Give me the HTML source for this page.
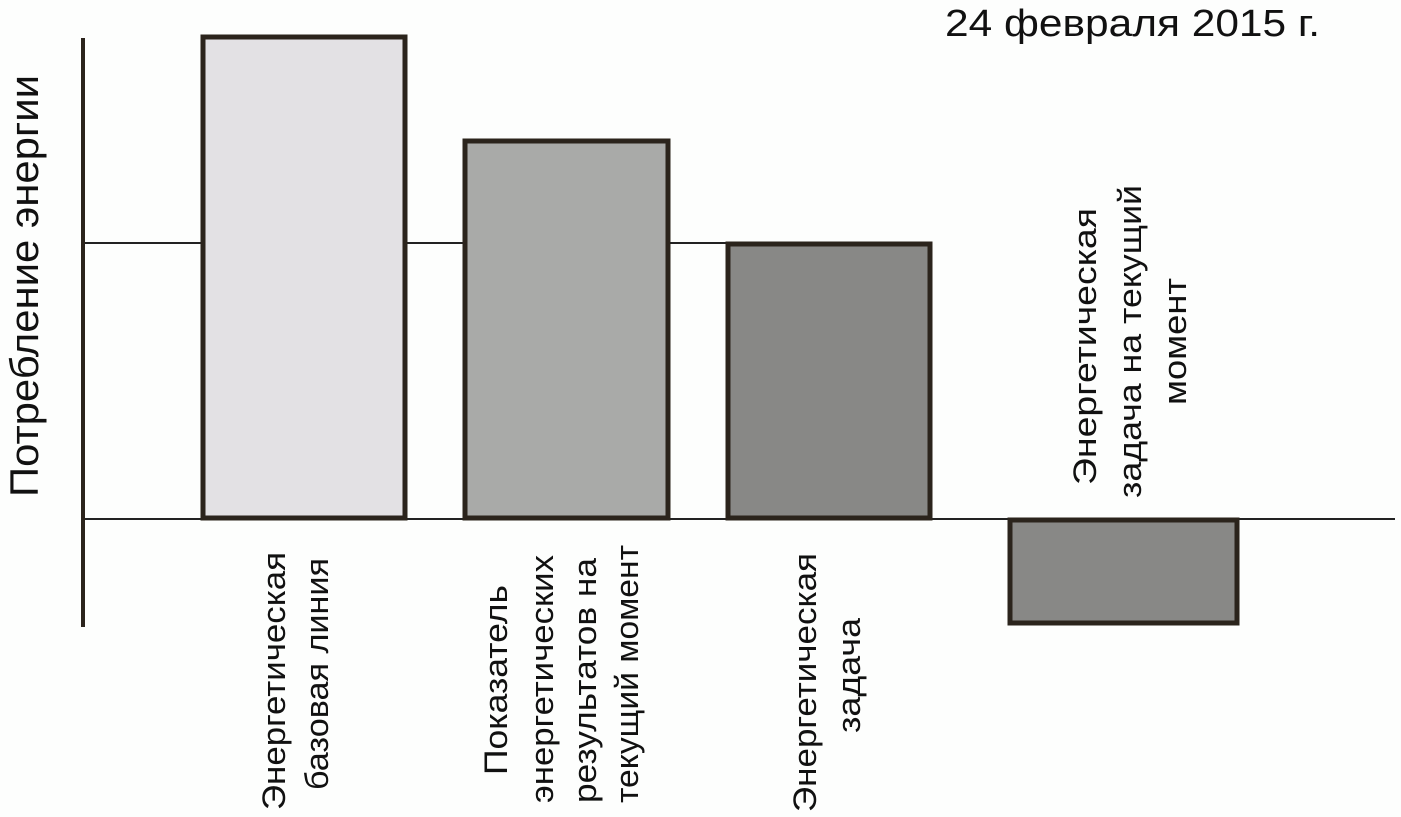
<!DOCTYPE html>
<html><head><meta charset="utf-8"><style>
html,body{margin:0;padding:0;background:#fff;}
svg{display:block;}
text{font-family:"Liberation Sans",Arial,sans-serif;fill:#111;}
</style></head><body>
<svg width="1401" height="817" viewBox="0 0 1401 817" xmlns="http://www.w3.org/2000/svg">
<rect width="1401" height="817" fill="#fdfefd"/>
<line x1="83" y1="243" x2="931" y2="243" stroke="#222" stroke-width="2"/>
<line x1="83" y1="519" x2="1395" y2="519" stroke="#222" stroke-width="2"/>
<line x1="83" y1="38" x2="83" y2="627" stroke="#2b241c" stroke-width="4"/>
<rect x="203" y="37" width="202" height="481" fill="#e3e1e4" stroke="#2b241c" stroke-width="5"/>
<rect x="465" y="141" width="203" height="377" fill="#a9aaa8" stroke="#2b241c" stroke-width="5"/>
<rect x="728" y="244" width="202" height="274" fill="#888886" stroke="#2b241c" stroke-width="5"/>
<rect x="1010" y="520" width="227" height="103" fill="#888886" stroke="#2b241c" stroke-width="5"/>
<text x="945" y="36" font-size="38" textLength="375" lengthAdjust="spacingAndGlyphs">24 февраля 2015 г.</text>
<text transform="translate(38,497) rotate(-90)" font-size="40" textLength="422" lengthAdjust="spacingAndGlyphs">Потребление энергии</text>
<g font-size="32">
<text transform="translate(285,810) rotate(-90)" textLength="258" lengthAdjust="spacingAndGlyphs">Энергетическая</text>
<text transform="translate(328,790) rotate(-90)" textLength="232" lengthAdjust="spacingAndGlyphs">базовая линия</text>
<text transform="translate(507,775) rotate(-90)" textLength="190" lengthAdjust="spacingAndGlyphs">Показатель</text>
<text transform="translate(553,803) rotate(-90)" textLength="248" lengthAdjust="spacingAndGlyphs">энергетических</text>
<text transform="translate(596,803) rotate(-90)" textLength="245" lengthAdjust="spacingAndGlyphs">результатов на</text>
<text transform="translate(638,803) rotate(-90)" textLength="258" lengthAdjust="spacingAndGlyphs">текущий момент</text>
<text transform="translate(816,812) rotate(-90)" textLength="259" lengthAdjust="spacingAndGlyphs">Энергетическая</text>
<text transform="translate(860,733) rotate(-90)" textLength="115" lengthAdjust="spacingAndGlyphs">задача</text>
<text transform="translate(1096,485) rotate(-90)" textLength="277" lengthAdjust="spacingAndGlyphs">Энергетическая</text>
<text transform="translate(1141,498) rotate(-90)" textLength="313" lengthAdjust="spacingAndGlyphs">задача на текущий</text>
<text transform="translate(1186,405) rotate(-90)" textLength="127" lengthAdjust="spacingAndGlyphs">момент</text>
</g>
</svg>
</body></html>
